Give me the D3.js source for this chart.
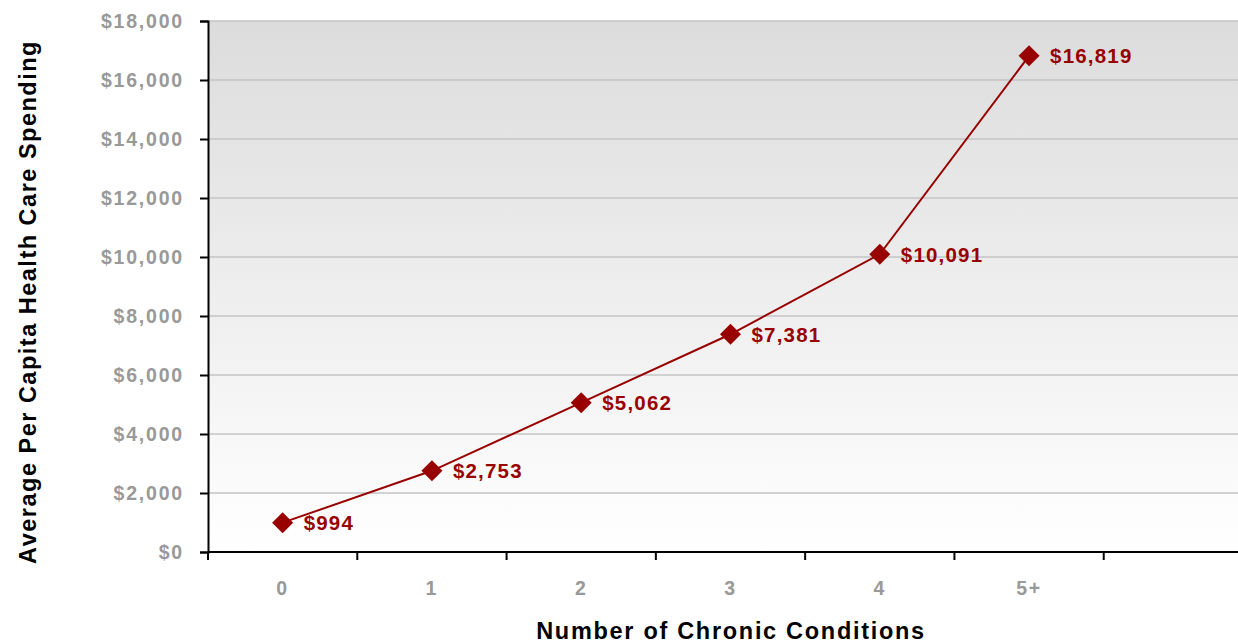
<!DOCTYPE html>
<html><head><meta charset="utf-8">
<script src="https://cdn.jsdelivr.net/npm/d3@7"></script>
<style>
html,body{margin:0;padding:0;background:#fff;}
svg{display:block;font-family:"Liberation Sans",Arial,sans-serif;}
</style></head>
<body><svg id="c" width="1238" height="644"></svg>
<script>
const categories = ["0","1","2","3","4","5+",""];
const values = [994, 2753, 5062, 7381, 10091, 16819];
const yTicks = [0,2000,4000,6000,8000,10000,12000,14000,16000,18000];

(function(){
const svg = d3.select("#c");
const pL = 208, pR = 1253, pT = 21, pB = 552;
const x = d3.scaleBand().domain(categories).range([pL, pR]);
const y = d3.scaleLinear().domain([0, 18000]).range([pB, pT]);

const defs = svg.append("defs");
const g = defs.append("linearGradient").attr("id","bg").attr("x1",0).attr("y1",0).attr("x2",0).attr("y2",1);
g.append("stop").attr("offset","0%").attr("stop-color","#dcdcdc");
g.append("stop").attr("offset","100%").attr("stop-color","#ffffff");

svg.append("rect").attr("x",pL).attr("y",pT).attr("width",pR-pL).attr("height",pB-pT).attr("fill","url(#bg)");

svg.append("g").selectAll("line").data(yTicks.filter(d=>d>0)).join("line")
  .attr("x1",pL).attr("x2",pR).attr("y1",d=>y(d)).attr("y2",d=>y(d))
  .attr("stroke","#c4c4c4").attr("stroke-width",1.5);

const yAxis = svg.append("g").attr("transform",`translate(${pL},0)`)
  .call(d3.axisLeft(y).tickValues(yTicks).tickSize(8).tickPadding(16).tickFormat(d=>"$"+d3.format(",")(d)));
yAxis.select(".domain").attr("stroke","#000").attr("stroke-width",2);
yAxis.selectAll(".tick line").attr("stroke","#000").attr("stroke-width",2);
yAxis.selectAll(".tick text").attr("fill","#999").attr("font-size","19.5px").attr("font-weight","bold")
  .attr("letter-spacing","1.8px").attr("font-family","'Liberation Sans',Arial,sans-serif");

const xAxis = svg.append("g").attr("transform",`translate(0,${pB})`)
  .call(d3.axisBottom(x).tickSize(0).tickPadding(29));
xAxis.select(".domain").attr("stroke","#000").attr("stroke-width",2).attr("d",`M${pL},0H${pR}`);
xAxis.selectAll(".tick text").attr("fill","#999").attr("font-size","19.5px").attr("font-weight","bold")
  .attr("letter-spacing","1.8px").attr("font-family","'Liberation Sans',Arial,sans-serif");
const bounds = categories.map(c=>x(c)).concat([pR]);
svg.append("g").selectAll("line").data(bounds).join("line")
  .attr("x1",d=>d).attr("x2",d=>d).attr("y1",pB).attr("y2",pB+8)
  .attr("stroke","#000").attr("stroke-width",2);

const cx = i => x(categories[i]) + x.bandwidth()/2;

svg.append("path").datum(values)
  .attr("d", d3.line().x((d,i)=>cx(i)).y(d=>y(d)))
  .attr("fill","none").attr("stroke","#990000").attr("stroke-width",2);

svg.append("g").selectAll("path").data(values).join("path")
  .attr("d", d3.symbol(d3.symbolSquare, 220)())
  .attr("transform",(d,i)=>`translate(${cx(i)},${y(d)}) rotate(45)`)
  .attr("fill","#990000");

svg.append("g").selectAll("text").data(values).join("text")
  .attr("x",(d,i)=>cx(i)+21).attr("y",d=>y(d)).attr("dy","0.36em")
  .attr("fill","#990000").attr("font-size","20.5px").attr("font-weight","bold").attr("letter-spacing","1.2px")
  .text(d=>"$"+d3.format(",")(d));

svg.append("text").attr("x",731).attr("y",639).attr("text-anchor","middle")
  .attr("font-size","23.5px").attr("font-weight","bold").attr("fill","#000").attr("letter-spacing","1.7px")
  .text("Number of Chronic Conditions");
svg.append("text").attr("transform","translate(36,302) rotate(-90)").attr("text-anchor","middle")
  .attr("font-size","23.5px").attr("font-weight","bold").attr("fill","#000").attr("letter-spacing","1.5px")
  .text("Average Per Capita Health Care Spending");
})();
</script></body></html>
